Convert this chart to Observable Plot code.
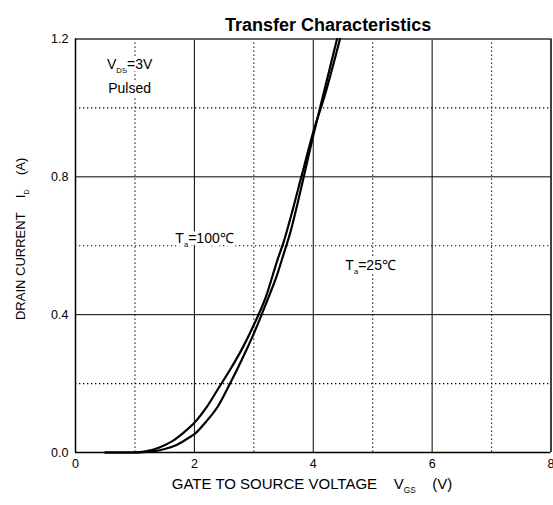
<!DOCTYPE html>
<html><head><meta charset="utf-8">
<script src="https://cdn.jsdelivr.net/npm/d3@7"></script>
<script src="https://cdn.jsdelivr.net/npm/@observablehq/plot@0.6"></script>
<style>body{margin:0;background:#fff} svg{font-family:"Liberation Sans",Arial,sans-serif}</style>
</head><body><div id="chart"></div>
<script>
// ---- data ----
const xTicks = [0, 2, 4, 6, 8];
const yTicks = [0, 0.4, 0.8, 1.2];
const yTickLabels = ["0.0", "0.4", "0.8", "1.2"];
const majorX = [2, 4, 6];
const minorX = [1, 3, 5, 7];
const majorY = [0.4, 0.8];
const minorY = [0.2, 0.6, 1.0];

const vgs25 = [0.5, 1.0, 1.3, 1.5, 1.7, 1.9, 2.0, 2.2, 2.4, 2.6, 2.8, 3.0, 3.2, 3.4, 3.5, 3.6, 3.8, 4.0, 4.2, 4.4];
const id25  = [0, 0, 0.003, 0.01, 0.022, 0.042, 0.053, 0.09, 0.135, 0.2, 0.27, 0.345, 0.43, 0.52, 0.575, 0.63, 0.77, 0.92, 1.06, 1.2];

const vgs100 = [0.5, 1.0, 1.2, 1.4, 1.6, 1.8, 2.0, 2.2, 2.4, 2.6, 2.8, 3.0, 3.2, 3.4, 3.5, 3.6, 3.8, 4.0, 4.2, 4.45];
const id100  = [0, 0, 0.004, 0.014, 0.03, 0.055, 0.086, 0.13, 0.185, 0.24, 0.3, 0.37, 0.45, 0.56, 0.61, 0.67, 0.8, 0.93, 1.04, 1.2];

const labels = [
  {text: "T_{a}=100℃", x: 1.68, y: 0.62},
  {text: "T_{a}=25℃", x: 4.54, y: 0.542},
  {text: "V_{DS}=3V", x: 0.53, y: 1.125},
  {text: "Pulsed", x: 0.55, y: 1.055}
];
const title = "Transfer Characteristics";
const xLabel = "GATE TO SOURCE VOLTAGE    V_{GS}    (V)";
const yLabel = "DRAIN CURRENT    I_{D}    (A)";

const d25 = vgs25.map((v, k) => ({v, i: id25[k]}));
const d100 = vgs100.map((v, k) => ({v, i: id100[k]}));

const dotted = "1.3,2.7";
const chart = Plot.plot({
  width: 553, height: 505,
  marginLeft: 75, marginRight: 2.5, marginTop: 38.5, marginBottom: 53,
  x: {domain: [0, 8]},
  y: {domain: [0, 1.2]},
  style: {fontFamily: "'Liberation Sans', Arial, sans-serif", background: "#fff"},
  marks: [
    Plot.ruleX(minorX, {stroke: "#000", strokeWidth: 1.2, strokeDasharray: dotted}),
    Plot.ruleY(minorY, {stroke: "#000", strokeWidth: 1.2, strokeDasharray: dotted}),
    Plot.ruleX(majorX, {stroke: "#000", strokeWidth: 1}),
    Plot.ruleY(majorY, {stroke: "#000", strokeWidth: 1}),
    Plot.ruleY([1.2], {stroke: "#666", strokeWidth: 2}),
    Plot.ruleX([8], {stroke: "#000", strokeWidth: 1.5}),
    Plot.ruleX([0], {stroke: "#000", strokeWidth: 1.5}),
    Plot.ruleY([0], {stroke: "#000", strokeWidth: 1.5}),
    Plot.axisX({ticks: xTicks, tickSize: 0, tickPadding: 7, fontSize: 12.5, label: null, tickFormat: d => String(d)}),
    Plot.axisY({ticks: yTicks, tickSize: 0, tickPadding: 7, fontSize: 12.5, label: null, tickFormat: (d, k) => yTickLabels[k]}),
    Plot.line(d25, {x: "v", y: "i", curve: "monotone-x", stroke: "#000", strokeWidth: 2.2}),
    Plot.line(d100, {x: "v", y: "i", curve: "monotone-x", stroke: "#000", strokeWidth: 2.2}),
    Plot.text(labels, {x: "x", y: "y", text: "text", textAnchor: "start", fontSize: 14, fill: "#000", stroke: "#fff", strokeWidth: 7}),
    Plot.text([title], {x: [4.25], frameAnchor: "top", dy: -21, text: d => d, fontSize: 18, fontWeight: "bold", fill: "#000"}),
    Plot.text([xLabel], {x: [3.98], frameAnchor: "bottom", dy: 36, text: d => d, fontSize: 15, fill: "#000"}),
    Plot.text([yLabel], {y: [0.62], frameAnchor: "left", textAnchor: "middle", dx: -55, rotate: -90, text: d => d, fontSize: 13, fill: "#000"})
  ]
});

// subscripts
d3.select(chart).selectAll("text").each(function () {
  const t = this.textContent;
  if (!t.includes("_{")) return;
  const el = d3.select(this);
  el.style("white-space", "pre");
  el.text(null);
  const parts = t.split(/(_\{[^}]*\})/).filter(s => s.length);
  let shifted = false;
  parts.forEach(p => {
    if (p.startsWith("_{")) {
      el.append("tspan").attr("font-size", "0.55em").attr("dy", 4).text(p.slice(2, -1));
      shifted = true;
    } else {
      const ts = el.append("tspan").text(p);
      if (shifted) { ts.attr("dy", -4); shifted = false; }
    }
  });
});
document.getElementById("chart").appendChild(chart);
</script>
</body></html>
